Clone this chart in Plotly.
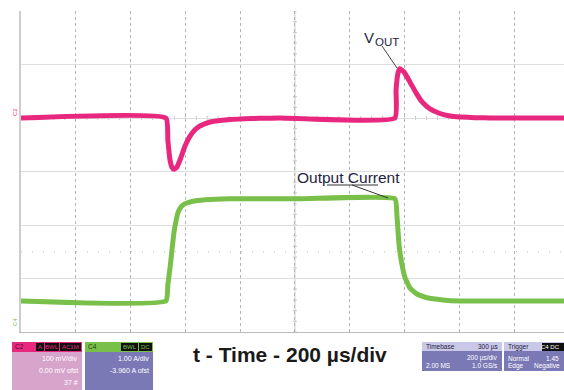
import plotly.graph_objects as go

# ---------------- data (read from the scope capture) ----------------
# time axis: microseconds from the left edge of the screen, 200 us/div
vout_t_us = [0, 529, 536, 544, 551, 558, 569, 580, 599, 617, 635, 653, 690, 726, 763, 818, 872, 945,
             1365, 1369, 1376, 1383, 1398, 1420, 1442, 1464, 1493, 1529, 1566, 1602, 1657, 1712, 1982]
# VOUT (AC coupled) deviation in mV, 100 mV/div
vout_mV = [0, 0, -41, -79, -92, -96, -92, -79, -52, -34, -22, -15, -7.5, -4.7, -2.8, -1.5, -0.6, 0,
           0, 52, 84, 92, 86, 67, 47, 30, 17, 8.4, 3.7, 1.9, 0.6, 0, 0]

iout_t_us = [0, 529, 536, 544, 551, 558, 566, 573, 584, 599, 624, 672, 763, 1018,
             1365, 1372, 1380, 1391, 1402, 1420, 1445, 1482, 1540, 1602, 1982]
# output current in A, 1 A/div
iout_A = [0.45, 0.45, 0.75, 1.07, 1.40, 1.72, 1.95, 2.10, 2.21, 2.27, 2.31, 2.34, 2.36, 2.36,
          2.36, 2.06, 1.50, 1.12, 0.88, 0.69, 0.58, 0.51, 0.47, 0.45, 0.45]

TRIGGER_T_US = 1380
US_PER_DIV = 200
N_XDIV_VISIBLE = 9.91
C2_MV_PER_DIV = 100
C2_ZERO_DIV = 4.0
C4_A_PER_DIV = 1.0
C4_ZERO_DIV = 0.13

title_text = "t - Time - 200 µs/div"
vout_label = ("V", "OUT")
iout_label = "Output Current"

c2_info = ["100 mV/div", "0.00 mV ofst", "37 #"]
c4_info = ["1.00 A/div", "-3.960 A ofst"]

# ---------------- styling ----------------
PINK = "#e8287e"
GREEN = "#79c04a"
GRID = "#b4b4b4"
W, H = 564, 390
PL, PR, PT, PB = 21, 564, 11, 332


def px(x):
    return (x - PL) / (PR - PL)


def py(y):
    return (PB - y) / (PB - PT)


vout_div = [C2_ZERO_DIV + v / C2_MV_PER_DIV for v in vout_mV]
iout_div = [C4_ZERO_DIV + i / C4_A_PER_DIV for i in iout_A]

fig = go.Figure()
fig.add_trace(go.Scatter(x=vout_t_us, y=vout_div, mode="lines",
                         line=dict(color=PINK, width=5, shape="spline", smoothing=0.4),
                         hoverinfo="skip", showlegend=False))
fig.add_trace(go.Scatter(x=iout_t_us, y=iout_div, mode="lines",
                         line=dict(color=GREEN, width=5, shape="spline", smoothing=0.4),
                         hoverinfo="skip", showlegend=False))
fig.add_trace(go.Scatter(x=[TRIGGER_T_US], y=[-0.07], mode="markers",
                         marker=dict(symbol="triangle-up", size=7, color=GREEN),
                         cliponaxis=False, hoverinfo="skip", showlegend=False))

shapes = []
xmax = US_PER_DIV * N_XDIV_VISIBLE
# solid centre vertical line
shapes.append(dict(type="line", xref="x", yref="y", x0=5 * US_PER_DIV, x1=5 * US_PER_DIV, y0=0, y1=6,
                   line=dict(color="#cfcfcf", width=1), layer="below"))
# minor ticks on centre vertical line
k = 0
while k <= 30:
    yy = k * 0.2
    shapes.append(dict(type="line", xref="x", yref="y", x0=5 * US_PER_DIV - 7, x1=5 * US_PER_DIV + 7,
                       y0=yy, y1=yy, line=dict(color="#c8c8c8", width=1), layer="below"))
    k += 1
# minor ticks on the 4-div line
k = 0
while k * 40 <= xmax:
    xx = k * 40
    shapes.append(dict(type="line", xref="x", yref="y", x0=xx, x1=xx, y0=3.96, y1=4.04,
                       line=dict(color="#c8c8c8", width=1), layer="below"))
    k += 1
# dotted horizontal marker line
shapes.append(dict(type="line", xref="x", yref="y", x0=0, x1=xmax, y0=1.5, y1=1.5,
                   line=dict(color="#c0c0c0", width=1, dash="1px,10px"), layer="below"))

# leader lines
shapes.append(dict(type="line", xref="paper", yref="paper", x0=px(382), y0=py(46), x1=px(397), y1=py(68),
                   line=dict(color="#444444", width=1)))
shapes.append(dict(type="line", xref="paper", yref="paper", x0=px(327), y0=py(185), x1=px(378), y1=py(185),
                   line=dict(color="#333333", width=1)))
shapes.append(dict(type="line", xref="paper", yref="paper", x0=px(352), y0=py(185), x1=px(388), y1=py(198),
                   line=dict(color="#333333", width=1)))

annotations = []


def rect(x0, y0, x1, y1, color):
    shapes.append(dict(type="rect", xref="paper", yref="paper", x0=px(x0), x1=px(x1), y0=py(y1), y1=py(y0),
                       fillcolor=color, line=dict(width=0), layer="above"))


def txt(x, y, s, size=7, color="white", anchor="left", bold=False, angle=0):
    annotations.append(dict(xref="paper", yref="paper", x=px(x), y=py(y), text=("<b>%s</b>" % s) if bold else s,
                            showarrow=False, xanchor=anchor, yanchor="middle", textangle=angle,
                            font=dict(size=size, color=color, family="Arial")))


# C2 box
rect(12, 342, 82, 392, "#d7a4cc")
rect(12, 342, 82, 352, PINK)
txt(13, 347, "C2", 6.5, "#5a0a2a")
rect(36, 343, 44, 351, "#111111"); txt(40, 347, "A", 6, "#e8287e", "center")
rect(45, 343, 59, 351, "#111111"); txt(52, 347, "BWL", 6, "#e8287e", "center")
rect(60, 343, 81, 351, "#111111"); txt(70.5, 347, "AC1M", 6, "#e8287e", "center")
for i, s in enumerate(c2_info):
    txt(80, 358 + 12 * i, s, 7, "white", "right")

# C4 box
rect(85, 342, 153, 392, "#7a79b6")
rect(85, 342, 153, 352, GREEN)
txt(86, 347, "C4", 6.5, "#1e3d10")
rect(121, 343, 138, 351, "#111111"); txt(129.5, 347, "BWL", 6, GREEN, "center")
rect(139, 343, 152, 351, "#111111"); txt(145.5, 347, "DC", 6, GREEN, "center")
for i, s in enumerate(c4_info):
    txt(151, 358 + 12 * i, s, 7, "white", "right")

# Timebase box
rect(422, 342, 502, 371, "#7a79b6")
rect(422, 342, 502, 351, "#c9c8e6")
txt(424, 346.5, "Timebase", 6.5, "#222244")
txt(500, 346.5, "300 µs", 6.5, "#222244", "right")
txt(500, 358, "200 µs/div", 6.5, "white", "right")
txt(424, 365.5, "2.00 MS", 6.5, "white")
txt(500, 365.5, "1.0 GS/s", 6.5, "white", "right")

# Trigger box
rect(504, 342, 566, 371, "#7a79b6")
rect(504, 342, 566, 351, "#c9c8e6")
txt(506, 346.5, "Trigger", 6.5, "#222244")
rect(542, 343, 566, 351, "#111111"); txt(562, 347, "C4 DC", 6, "white", "right")
txt(506, 358, "Normal", 6.5, "white")
txt(561, 358, "1.45", 6.5, "white", "right")
txt(506, 365.5, "Edge", 6.5, "white")
txt(562, 365.5, "Negative", 6.5, "white", "right")

# channel markers
txt(15, 112, "C2", 6, PINK, "center", angle=-90)
txt(15, 322, "C4", 6, GREEN, "center", angle=-90)

# labels
txt(362, 37, vout_label[0], 15, "#1f2340")
txt(373, 42, vout_label[1], 11.5, "#1f2340")
txt(295, 177, iout_label, 15.5, "#1f2340")
txt(290, 354, title_text, 21, "#1a1a1a", "center", bold=True)

fig.update_layout(
    width=W, height=H,
    margin=dict(l=PL, r=W - PR, t=PT, b=H - PB, pad=0),
    paper_bgcolor="white", plot_bgcolor="white",
    xaxis=dict(range=[0, xmax], dtick=US_PER_DIV, tick0=0, showgrid=True, gridcolor=GRID, griddash="dot",
               gridwidth=1, zeroline=False, showticklabels=False, ticks="", showline=True,
               linecolor="#bdbdbd", linewidth=1, fixedrange=True),
    yaxis=dict(range=[0, 6], dtick=1, tick0=0, showgrid=True, gridcolor="#dedede", gridwidth=1,
               zeroline=False, showticklabels=False, ticks="", showline=True, linecolor="#cdcdcd",
               linewidth=2, fixedrange=True, mirror=False),
    shapes=shapes, annotations=annotations, showlegend=False,
)

fig.write_html("out.html")
